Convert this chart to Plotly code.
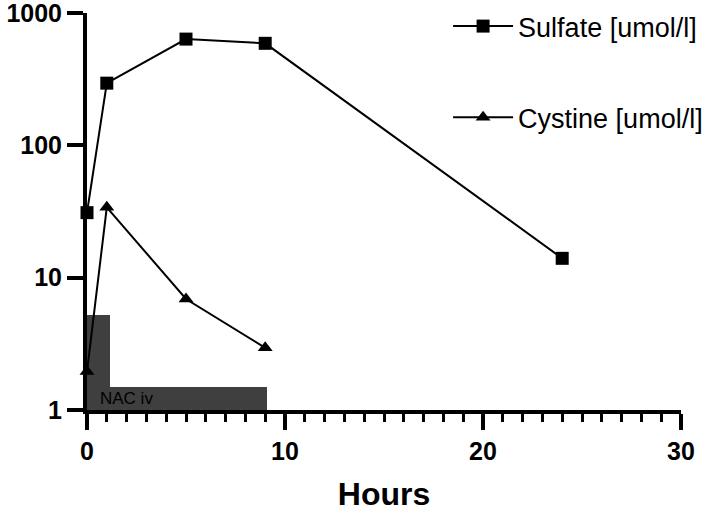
import plotly.graph_objects as go

hours_sulfate = [0, 1, 5, 9, 24]
sulfate = [31, 295, 635, 590, 14]
hours_cystine = [0, 1, 5, 9]
cystine = [1.95, 34, 6.9, 2.95]

nac_start = [0, 1.15]
nac_end = [1.15, 9.1]
nac_level = [5.2, 1.5]
nac_label = "NAC iv"

x_ticks = [0, 10, 20, 30]
y_ticks = [1, 10, 100, 1000]

FONT = "Liberation Sans, Arial, sans-serif"

fig = go.Figure()

fig.add_trace(go.Bar(
    x=[(a + b) / 2 for a, b in zip(nac_start, nac_end)],
    y=nac_level,
    width=[b - a for a, b in zip(nac_start, nac_end)],
    marker=dict(color="#3f3f3f", line=dict(width=0)),
    showlegend=False,
    hoverinfo="skip",
))

fig.add_trace(go.Scatter(
    x=hours_sulfate, y=sulfate, mode="lines+markers",
    name="Sulfate [umol/l]",
    line=dict(color="black", width=2),
    marker=dict(symbol="square", size=13, color="black"),
    cliponaxis=False, legendgroup="a",
))
fig.add_trace(go.Scatter(
    x=hours_cystine, y=cystine, mode="lines+markers",
    name="Cystine [umol/l]",
    line=dict(color="black", width=2),
    marker=dict(symbol="triangle-up", size=13, color="black"),
    cliponaxis=False, legendgroup="b",
))

fig.add_annotation(
    x=nac_start[0] + 2.0, y=0.09, xref="x", yref="y",
    text=nac_label, showarrow=False,
    font=dict(family=FONT, size=17, color="black"),
)

fig.update_layout(
    width=709, height=512,
    margin=dict(l=87, r=28, t=13, b=102, autoexpand=False),
    plot_bgcolor="white", paper_bgcolor="white",
    bargap=0,
    font=dict(family=FONT, color="black"),
    legend=dict(
        xref="container", yref="container",
        x=0.632, y=0.996, xanchor="left", yanchor="top",
        font=dict(family=FONT, size=27, color="black"),
        traceorder="grouped", tracegroupgap=53, itemwidth=60,
        bgcolor="rgba(0,0,0,0)",
    ),
    showlegend=True,
)

fig.update_xaxes(
    range=[0, 30], tickvals=x_ticks, ticktext=[str(v) for v in x_ticks],
    showline=True, linecolor="black", linewidth=4,
    ticks="outside", ticklen=16, tickwidth=4, tickcolor="black",
    minor=dict(dtick=1, ticks="outside", ticklen=8, tickwidth=3, tickcolor="black", showgrid=False),
    showgrid=False, zeroline=False, automargin=False, ticklabeloverflow="allow",
    tickfont=dict(family=FONT, size=25, color="black", weight="bold"),
    title=dict(text="Hours", font=dict(family=FONT, size=32, color="black", weight="bold"), standoff=31),
)
fig.update_yaxes(
    type="log", range=[0, 3], tickvals=y_ticks, ticktext=[str(v) for v in y_ticks],
    showline=True, linecolor="black", linewidth=4,
    ticks="outside", ticklen=16, tickwidth=4, tickcolor="black",
    showgrid=False, zeroline=False, automargin=False, ticklabeloverflow="allow",
    tickfont=dict(family=FONT, size=25, color="black", weight="bold"),
)

fig.write_html("out.html", config={"displayModeBar": False},
               post_script="document.body.style.margin='0';")
